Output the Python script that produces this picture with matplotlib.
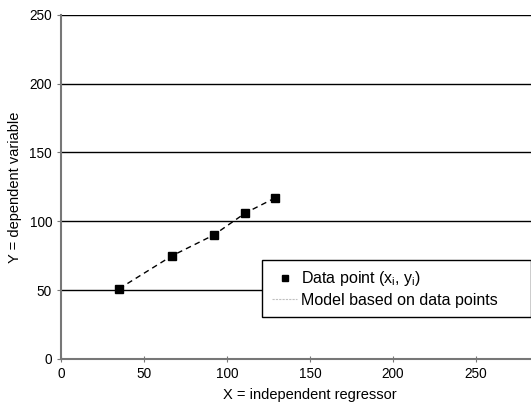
import matplotlib.pyplot as plt

plt.rcParams['font.family'] = ['Liberation Sans', 'DejaVu Sans']
plt.rcParams['mathtext.fontset'] = 'custom'
plt.rcParams['mathtext.rm'] = 'Liberation Sans'

# data
x_values = [35, 67, 92, 111, 129]
y_values = [51, 75, 90, 106, 117]
x_ticks = [0, 50, 100, 150, 200, 250]
y_ticks = [0, 50, 100, 150, 200, 250]

fig = plt.figure(figsize=(5.31, 4.12), dpi=100)
# the original chart is cut off on the right, so the axes run past the figure edge
ax = fig.add_axes([0.115, 0.129, 0.938, 0.835])

# horizontal gridlines
for y in y_ticks[1:]:
    ax.axhline(y, color='black', linewidth=1, zorder=1)

ax.plot(x_values, y_values, linestyle=(0, (4, 3)), color='black', linewidth=1, zorder=2)
ax.plot(x_values, y_values, linestyle='none', marker='s', markersize=6, color='black', zorder=3)

# legend proxies
h1, = ax.plot([], [], linestyle='none', marker='s', markersize=5, color='black',
              label='Data point (x$_\\mathregular{i}$, y$_\\mathregular{i}$)')
h2, = ax.plot([], [], linestyle=(0, (2, 1)), color='#c0c0c0', linewidth=0.8,
              label='Model based on data points')

ax.set_xlim(0, 300)
ax.set_ylim(0, 250)
ax.set_xticks(x_ticks)
ax.set_yticks(y_ticks)
ax.tick_params(labelsize=9.8, length=3, color='#777777')
ax.tick_params(axis='x', direction='inout', length=5)

for side in ['top', 'right']:
    ax.spines[side].set_visible(False)
ax.spines['left'].set_color('#777777')
ax.spines['bottom'].set_color('#777777')
ax.spines['left'].set_linewidth(1.5)
ax.spines['bottom'].set_linewidth(1.5)

ax.set_xlabel('X = independent regressor', fontsize=10.5, labelpad=5)
ax.set_ylabel('Y = dependent variable', fontsize=10.5, labelpad=5)

leg = ax.legend(handles=[h1, h2], loc='center left', bbox_to_anchor=(0.404, 0.119, 0.54, 0.171),
                mode='expand', fancybox=False, framealpha=1, edgecolor='black',
                fontsize=11.5, handlelength=1.6, handletextpad=0.2, borderpad=0.6,
                labelspacing=0.3, borderaxespad=0)
leg.get_frame().set_linewidth(1)

fig.savefig('out.png', dpi=100)
